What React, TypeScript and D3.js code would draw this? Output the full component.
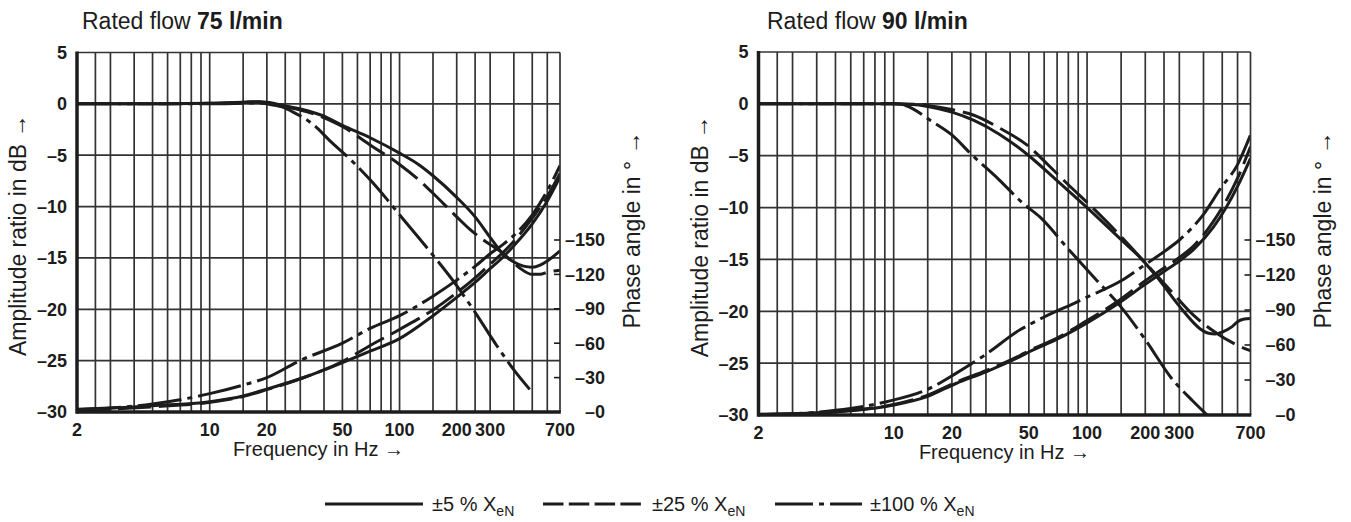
import React from "react";
import * as d3 from "d3";

const W = 1351;
const H = 522;

const gridFreqs = [2.5, 3, 4, 5, 6, 7, 8, 9, 10, 15, 20, 25, 30, 40, 50, 60, 70, 80, 90, 100, 150, 200, 250, 300, 400, 500, 600];
const xTickLabels = [2, 10, 20, 50, 100, 200, 300, 700];
const dbTicks = [5, 0, -5, -10, -15, -20, -25, -30];
const phaseTicks = [0, 30, 60, 90, 120, 150];

// ---- Rated flow 75 l/min ----
const f75AmpSolid = [2, 5, 10, 15, 18, 20, 25, 30, 40, 50, 70, 100, 128, 150, 200, 250, 300, 350, 400, 450, 500, 550, 600, 700];
const amp75Solid = [0, 0, 0.05, 0.15, 0.2, 0.15, -0.2, -0.5, -1.2, -2.1, -3.3, -4.8, -6.0, -7.0, -9.1, -11.0, -13.0, -14.6, -15.4, -15.8, -15.9, -15.7, -15.3, -14.3];
const f75AmpDashed = [2, 5, 10, 15, 18, 20, 25, 30, 43, 50, 70, 100, 128, 150, 200, 234, 300, 337, 400, 431, 500, 550, 600, 700];
const amp75Dashed = [0, 0, 0.05, 0.15, 0.2, 0.1, -0.3, -0.6, -1.6, -2.2, -4.0, -5.9, -7.5, -8.7, -11.0, -12.2, -13.7, -14.3, -15.5, -16.0, -16.6, -16.6, -16.4, -16.2];
const f75AmpDashDot = [2, 5, 10, 15, 18, 20, 24, 27.5, 35, 43, 55, 70, 85, 100, 145, 200, 250, 324, 400, 485];
const amp75DashDot = [0, 0, 0, 0.05, 0.1, 0, -0.3, -0.8, -2.0, -3.6, -5.4, -7.4, -9.2, -10.8, -14.4, -17.7, -20.3, -23.5, -25.9, -27.8];

const f75Phase = [2, 3, 5, 10, 15, 20, 30, 50, 70, 100, 150, 200, 250, 300, 350, 400, 500, 600, 700];
const ph75Solid = [2.5, 3.5, 5.5, 9, 14, 20, 29, 43, 53, 64, 84, 100, 113, 125, 135, 145, 164, 184, 205];
const ph75Dashed = [1.5, 2.5, 4.5, 8.5, 13.5, 19.5, 29, 44, 58, 72, 89, 104, 117, 129, 139, 149, 169, 188, 208];
const ph75DashDot = [2, 3.5, 7, 16, 23.5, 30, 45, 60, 73, 84, 101, 115, 127, 138, 146, 154, 172, 193, 215];

// ---- Rated flow 90 l/min ----
const f90AmpSolid = [2, 5, 10, 12, 15, 20, 26, 35, 50, 70, 100, 150, 190, 230, 300, 385, 420, 460, 500, 560, 600, 650, 700];
const amp90Solid = [0, 0, 0, -0.05, -0.25, -0.8, -1.6, -2.9, -5.0, -7.4, -10.0, -13.1, -14.9, -16.7, -19.5, -21.7, -22.1, -22.2, -22.0, -21.5, -21.0, -20.75, -20.7];
const f90AmpDashed = [2, 10, 13, 15, 20, 26, 35, 50, 63, 80, 100, 127, 180, 270, 356, 450, 573, 700];
const amp90Dashed = [0, 0, -0.05, -0.15, -0.55, -1.1, -2.3, -4.1, -5.9, -7.8, -9.5, -11.4, -14.4, -18.0, -20.4, -21.9, -23.1, -23.8];
const f90AmpDashDot = [2, 10, 11, 12, 15.5, 20, 25, 35, 47, 57, 80, 112, 150, 196, 280, 350, 418];
const amp90DashDot = [0, 0, -0.05, -0.3, -1.6, -3.0, -4.8, -7.3, -9.65, -10.9, -14.0, -17.0, -19.6, -22.5, -26.7, -28.6, -30];

const f90Phase = [2, 3, 5, 10, 15, 21, 30, 45, 50, 70, 100, 143, 200, 250, 300, 356, 450, 600, 700];
const ph90Solid = [0.5, 1, 2.5, 8.5, 16, 27, 37, 50, 54, 65, 79, 95, 112, 123, 132, 142, 161, 196, 220];
const ph90Dashed = [0.5, 1, 2.8, 9, 17, 28, 38, 51, 55, 66, 81, 97, 115, 126, 135, 145, 166, 203, 230];
const f90PhaseDashDot = [2, 3, 5, 9.2, 15, 21, 30, 45, 51, 60, 89, 100, 150, 196, 250, 300, 400, 489, 597, 700];
const ph90DashDot = [0.5, 1, 4, 11.4, 22, 35.7, 52, 73, 78, 84, 97, 101, 115, 128, 140, 150, 172, 194, 214, 240];

const legendLabels = ["±5 % X", "±25 % X", "±100 % X"];

const FONT = "'Liberation Sans', Arial, Helvetica, sans-serif";
const INK = "#1c1c1c";
const GRID = "#333";

const DASH_CURVE = { solid: undefined, dashed: "33 8", dashdot: "44 6 5 6" } as Record<string, string | undefined>;

type Series = { f: number[]; v: number[]; kind: "solid" | "dashed" | "dashdot"; axis: "db" | "ph" };

type Cfg = {
  id: string;
  flow: string;
  titleX: number;
  x0: number;
  x1: number;
  yTop: number;
  yBottom: number;
  y150: number;
  series: Series[];
};

const charts: Cfg[] = [
  {
    id: "c75",
    flow: "75 l/min",
    titleX: 82,
    x0: 77,
    x1: 560,
    yTop: 52.5,
    yBottom: 412,
    y150: 240,
    series: [
      { f: f75AmpSolid, v: amp75Solid, kind: "solid", axis: "db" },
      { f: f75AmpDashed, v: amp75Dashed, kind: "dashed", axis: "db" },
      { f: f75AmpDashDot, v: amp75DashDot, kind: "dashdot", axis: "db" },
      { f: f75Phase, v: ph75Solid, kind: "solid", axis: "ph" },
      { f: f75Phase, v: ph75Dashed, kind: "dashed", axis: "ph" },
      { f: f75Phase, v: ph75DashDot, kind: "dashdot", axis: "ph" },
    ],
  },
  {
    id: "c90",
    flow: "90 l/min",
    titleX: 767,
    x0: 758.5,
    x1: 1250.5,
    yTop: 52,
    yBottom: 415,
    y150: 240,
    series: [
      { f: f90AmpSolid, v: amp90Solid, kind: "solid", axis: "db" },
      { f: f90AmpDashed, v: amp90Dashed, kind: "dashed", axis: "db" },
      { f: f90AmpDashDot, v: amp90DashDot, kind: "dashdot", axis: "db" },
      { f: f90Phase, v: ph90Solid, kind: "solid", axis: "ph" },
      { f: f90Phase, v: ph90Dashed, kind: "dashed", axis: "ph" },
      { f: f90PhaseDashDot, v: ph90DashDot, kind: "dashdot", axis: "ph" },
    ],
  },
];

function Chart({ cfg }: { cfg: Cfg }) {
  const { x0, x1, yTop, yBottom, y150 } = cfg;
  const x = d3.scaleLog().domain([2, 700]).range([x0, x1]);
  const yDb = d3.scaleLinear().domain([-30, 5]).range([yBottom, yTop]);
  const yPh = d3.scaleLinear().domain([0, 150]).range([yBottom, y150]);
  const cx = (x0 + x1) / 2;

  const paths = cfg.series.map((s, i) => {
    const ys = s.axis === "db" ? yDb : yPh;
    const pts: [number, number][] = s.f.map((f, j) => [x(f), ys(s.v[j])]);
    const line = d3.line().curve(d3.curveMonotoneX)(pts) || "";
    return (
      <path
        key={i}
        d={line}
        fill="none"
        stroke={INK}
        strokeWidth={3}
        strokeDasharray={DASH_CURVE[s.kind]}
        strokeLinecap="butt"
      />
    );
  });

  return (
    <g>
      <defs>
        <clipPath id={`clip-${cfg.id}`}>
          <rect x={x0} y={yTop} width={x1 - x0} height={yBottom - yTop} />
        </clipPath>
      </defs>
      {/* title */}
      <text x={cfg.titleX} y={29} fontFamily={FONT} fontSize={23} fill={INK}>
        <tspan>Rated flow </tspan>
        <tspan fontWeight="bold">{cfg.flow}</tspan>
      </text>
      {/* grid */}
      {gridFreqs.map((f) => (
        <line key={`v${f}`} x1={x(f)} x2={x(f)} y1={yTop} y2={yBottom} stroke={GRID} strokeWidth={1.7} />
      ))}
      {dbTicks.slice(1, -1).map((d) => (
        <line key={`h${d}`} x1={x0} x2={x1} y1={yDb(d)} y2={yDb(d)} stroke={GRID} strokeWidth={1.7} />
      ))}
      {/* curves */}
      <g clipPath={`url(#clip-${cfg.id})`}>{paths}</g>
      {/* frame */}
      <line x1={x0} x2={x1} y1={yTop} y2={yTop} stroke={GRID} strokeWidth={1.7} />
      <line x1={x1} x2={x1} y1={yTop} y2={yBottom} stroke={GRID} strokeWidth={1.7} />
      <line x1={x0} x2={x0} y1={yTop - 1} y2={yBottom + 1.8} stroke={INK} strokeWidth={3.5} />
      <line x1={x0} x2={x1 + 0.8} y1={yBottom} y2={yBottom} stroke={INK} strokeWidth={3.5} />
      {/* phase ticks */}
      {phaseTicks.map((p) => (
        <line key={`pt${p}`} x1={x1 - 6} x2={x1} y1={yPh(p)} y2={yPh(p)} stroke={INK} strokeWidth={1.6} />
      ))}
      {/* dB tick labels */}
      {dbTicks.map((d) => (
        <text
          key={`dl${d}`}
          x={x0 - 10}
          y={yDb(d)}
          dy="0.36em"
          textAnchor="end"
          fontFamily={FONT}
          fontSize={18}
          fontWeight="bold"
          fill={INK}
        >
          {d < 0 ? `–${-d}` : `${d}`}
        </text>
      ))}
      {/* phase tick labels */}
      {phaseTicks.map((p) => (
        <text
          key={`pl${p}`}
          x={x1 + 45}
          y={yPh(p)}
          dy="0.36em"
          textAnchor="end"
          fontFamily={FONT}
          fontSize={18}
          fontWeight="bold"
          fill={INK}
        >
          {`–${p}`}
        </text>
      ))}
      {/* x tick labels */}
      {xTickLabels.map((f) => (
        <text
          key={`xl${f}`}
          x={x(f)}
          y={yBottom + 24}
          textAnchor="middle"
          fontFamily={FONT}
          fontSize={18}
          fontWeight="bold"
          fill={INK}
        >
          {f}
        </text>
      ))}
      {/* axis titles */}
      <text x={cx} y={yBottom + 44} textAnchor="middle" fontFamily={FONT} fontSize={20} fill={INK}>
        Frequency in Hz →
      </text>
      <text
        transform={`translate(${x0 - 51},${(yTop + yBottom) / 2 + 3}) rotate(-90)`}
        textAnchor="middle"
        fontFamily={FONT}
        fontSize={23}
        fill={INK}
      >
        Amplitude ratio in dB →
      </text>
      <text
        transform={`translate(${x1 + 80},230) rotate(-90)`}
        textAnchor="middle"
        fontFamily={FONT}
        fontSize={23}
        fill={INK}
      >
        Phase angle in ° →
      </text>
    </g>
  );
}

function Legend() {
  const items = [
    { x0: 325, x1: 423, tx: 432, dash: undefined as string | undefined },
    { x0: 543, x1: 641, tx: 652, dash: "20.5 5.3" },
    { x0: 775, x1: 862, tx: 870, dash: "38 6 5 6" },
  ];
  const y = 504;
  return (
    <g>
      {items.map((it, i) => (
        <g key={i}>
          <line x1={it.x0} x2={it.x1} y1={y} y2={y} stroke={INK} strokeWidth={3} strokeDasharray={it.dash} />
          <text x={it.tx} y={511} fontFamily={FONT} fontSize={20} fill={INK}>
            <tspan>{legendLabels[i]}</tspan>
            <tspan dy={5} fontSize={14}>
              eN
            </tspan>
          </text>
        </g>
      ))}
    </g>
  );
}

export default function App() {
  return (
    <svg width={W} height={H} style={{ position: "absolute", left: 0, top: 0, background: "#fff" }}>
      <rect width={W} height={H} fill="#fff" />
      {charts.map((c) => (
        <Chart key={c.id} cfg={c} />
      ))}
      <Legend />
    </svg>
  );
}
